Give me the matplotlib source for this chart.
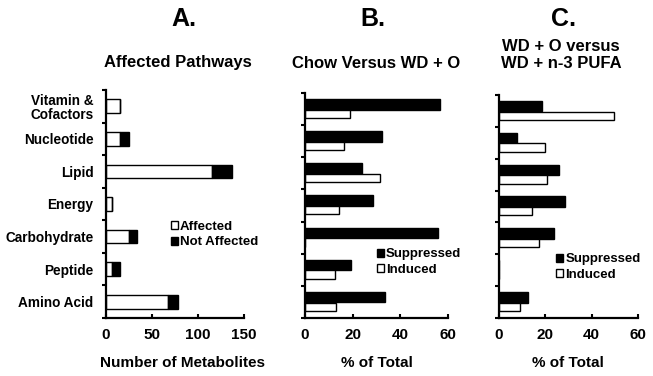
import numpy as np
import matplotlib
matplotlib.use("Agg")
import matplotlib.pyplot as plt
from matplotlib.patches import Patch

plt.rcParams['font.family'] = ['Liberation Sans', 'DejaVu Sans']
plt.rcParams['font.weight'] = 'bold'

categories = ["Vitamin &\nCofactors", "Nucleotide", "Lipid", "Energy",
              "Carbohydrate", "Peptide", "Amino Acid"]

# panel A - number of metabolites
affected = [15, 15, 115, 7, 25, 7, 67]
not_affected = [0, 10, 22, 0, 9, 8.5, 11.5]

# panel B - chow vs WD + O
b_suppressed = [56.5, 32.4, 23.9, 28.7, 55.8, 19.1, 33.5]
b_induced = [18.8, 16.3, 31.4, 14.4, 0, 12.7, 12.8]

# panel C - WD + O vs WD + n-3 PUFA
c_suppressed = [18.6, 7.8, 25.8, 28.6, 23.6, 0, 12.7]
c_induced = [49.6, 19.7, 20.9, 14.1, 17.3, 0, 9.1]

y = np.arange(len(categories))[::-1]  # top category first

fig = plt.figure(figsize=(6.53, 3.76), dpi=100)
axA = fig.add_axes([0.1623, 0.1543, 0.2113, 0.6064])
axB = fig.add_axes([0.4671, 0.1543, 0.2190, 0.5984])
axC = fig.add_axes([0.7642, 0.1543, 0.2129, 0.5930])


def style(ax, xmax, xticks):
    ax.set_xlim(0, xmax)
    ax.set_ylim(-0.5, len(categories) - 0.5)
    ax.spines['top'].set_visible(False)
    ax.spines['right'].set_visible(False)
    ax.spines['left'].set_linewidth(1.6)
    ax.spines['bottom'].set_linewidth(1.6)
    ax.set_xticks(xticks)
    ax.set_xticklabels([str(t) for t in xticks], fontsize=11, fontweight='bold')
    ax.tick_params(axis='x', direction='in', length=3, width=1.5, pad=7)
    ax.set_yticks(np.arange(-0.5, len(categories), 1.0))
    ax.set_yticklabels([])
    ax.tick_params(axis='y', direction='out', length=3, width=1.5)


def legend(ax, handles, anchor):
    ax.legend(handles=handles, loc='upper left', bbox_to_anchor=anchor, frameon=False,
              handlelength=0.55, handleheight=0.55, handletextpad=0.15,
              labelspacing=0.25, borderpad=0, borderaxespad=0,
              prop={'size': 9.5, 'weight': 'bold'})


# A
axA.barh(y, affected, height=0.42, color='white', edgecolor='black', linewidth=1)
axA.barh(y, not_affected, left=affected, height=0.42, color='black',
         edgecolor='black', linewidth=1)
style(axA, 150, [0, 50, 100, 150])
axA.set_yticks(y, minor=True)
axA.set_yticklabels(categories, minor=True, fontsize=9.8, fontweight='bold',
                    ha='right', linespacing=1.0)
axA.tick_params(axis='y', which='minor', length=0, pad=9)
legend(axA, [Patch(facecolor='white', edgecolor='black', label='Affected'),
             Patch(facecolor='black', edgecolor='black', label='Not Affected')],
       (0.47, 0.425))

# B and C
for ax, sup, ind, anchor in [(axB, b_suppressed, b_induced, (0.50, 0.31)),
                             (axC, c_suppressed, c_induced, (0.41, 0.29))]:
    ax.barh(y + 0.15, sup, height=0.33, color='black', edgecolor='black', linewidth=1)
    ax.barh(y - 0.15, ind, height=0.26, color='white', edgecolor='black', linewidth=1)
    style(ax, 60, [0, 20, 40, 60])
    legend(ax, [Patch(facecolor='black', edgecolor='black', label='Suppressed'),
                Patch(facecolor='white', edgecolor='black', label='Induced')], anchor)

# titles and labels
for xc, lab in [(184, "A."), (373, "B."), (563, "C.")]:
    fig.text(xc / 653, 1 - 19 / 376, lab, fontsize=18, fontweight='bold',
             ha='center', va='center')
fig.text(178 / 653, 1 - 63 / 376, "Affected Pathways", fontsize=12, fontweight='bold',
         ha='center', va='center')
fig.text(376 / 653, 1 - 64 / 376, "Chow Versus WD + O", fontsize=12, fontweight='bold',
         ha='center', va='center')
fig.text(561 / 653, 1 - 55 / 376, "WD + O versus\nWD + n-3 PUFA", fontsize=12,
         fontweight='bold', ha='center', va='center', linespacing=1.15)
fig.text(182 / 653, 1 - 363 / 376, "Number of Metabolites", fontsize=11,
         fontweight='bold', ha='center', va='center')
fig.text(377 / 653, 1 - 363 / 376, "% of Total", fontsize=11, fontweight='bold',
         ha='center', va='center')
fig.text(568 / 653, 1 - 363 / 376, "% of Total", fontsize=11, fontweight='bold',
         ha='center', va='center')

fig.savefig("out.png", dpi=100)
